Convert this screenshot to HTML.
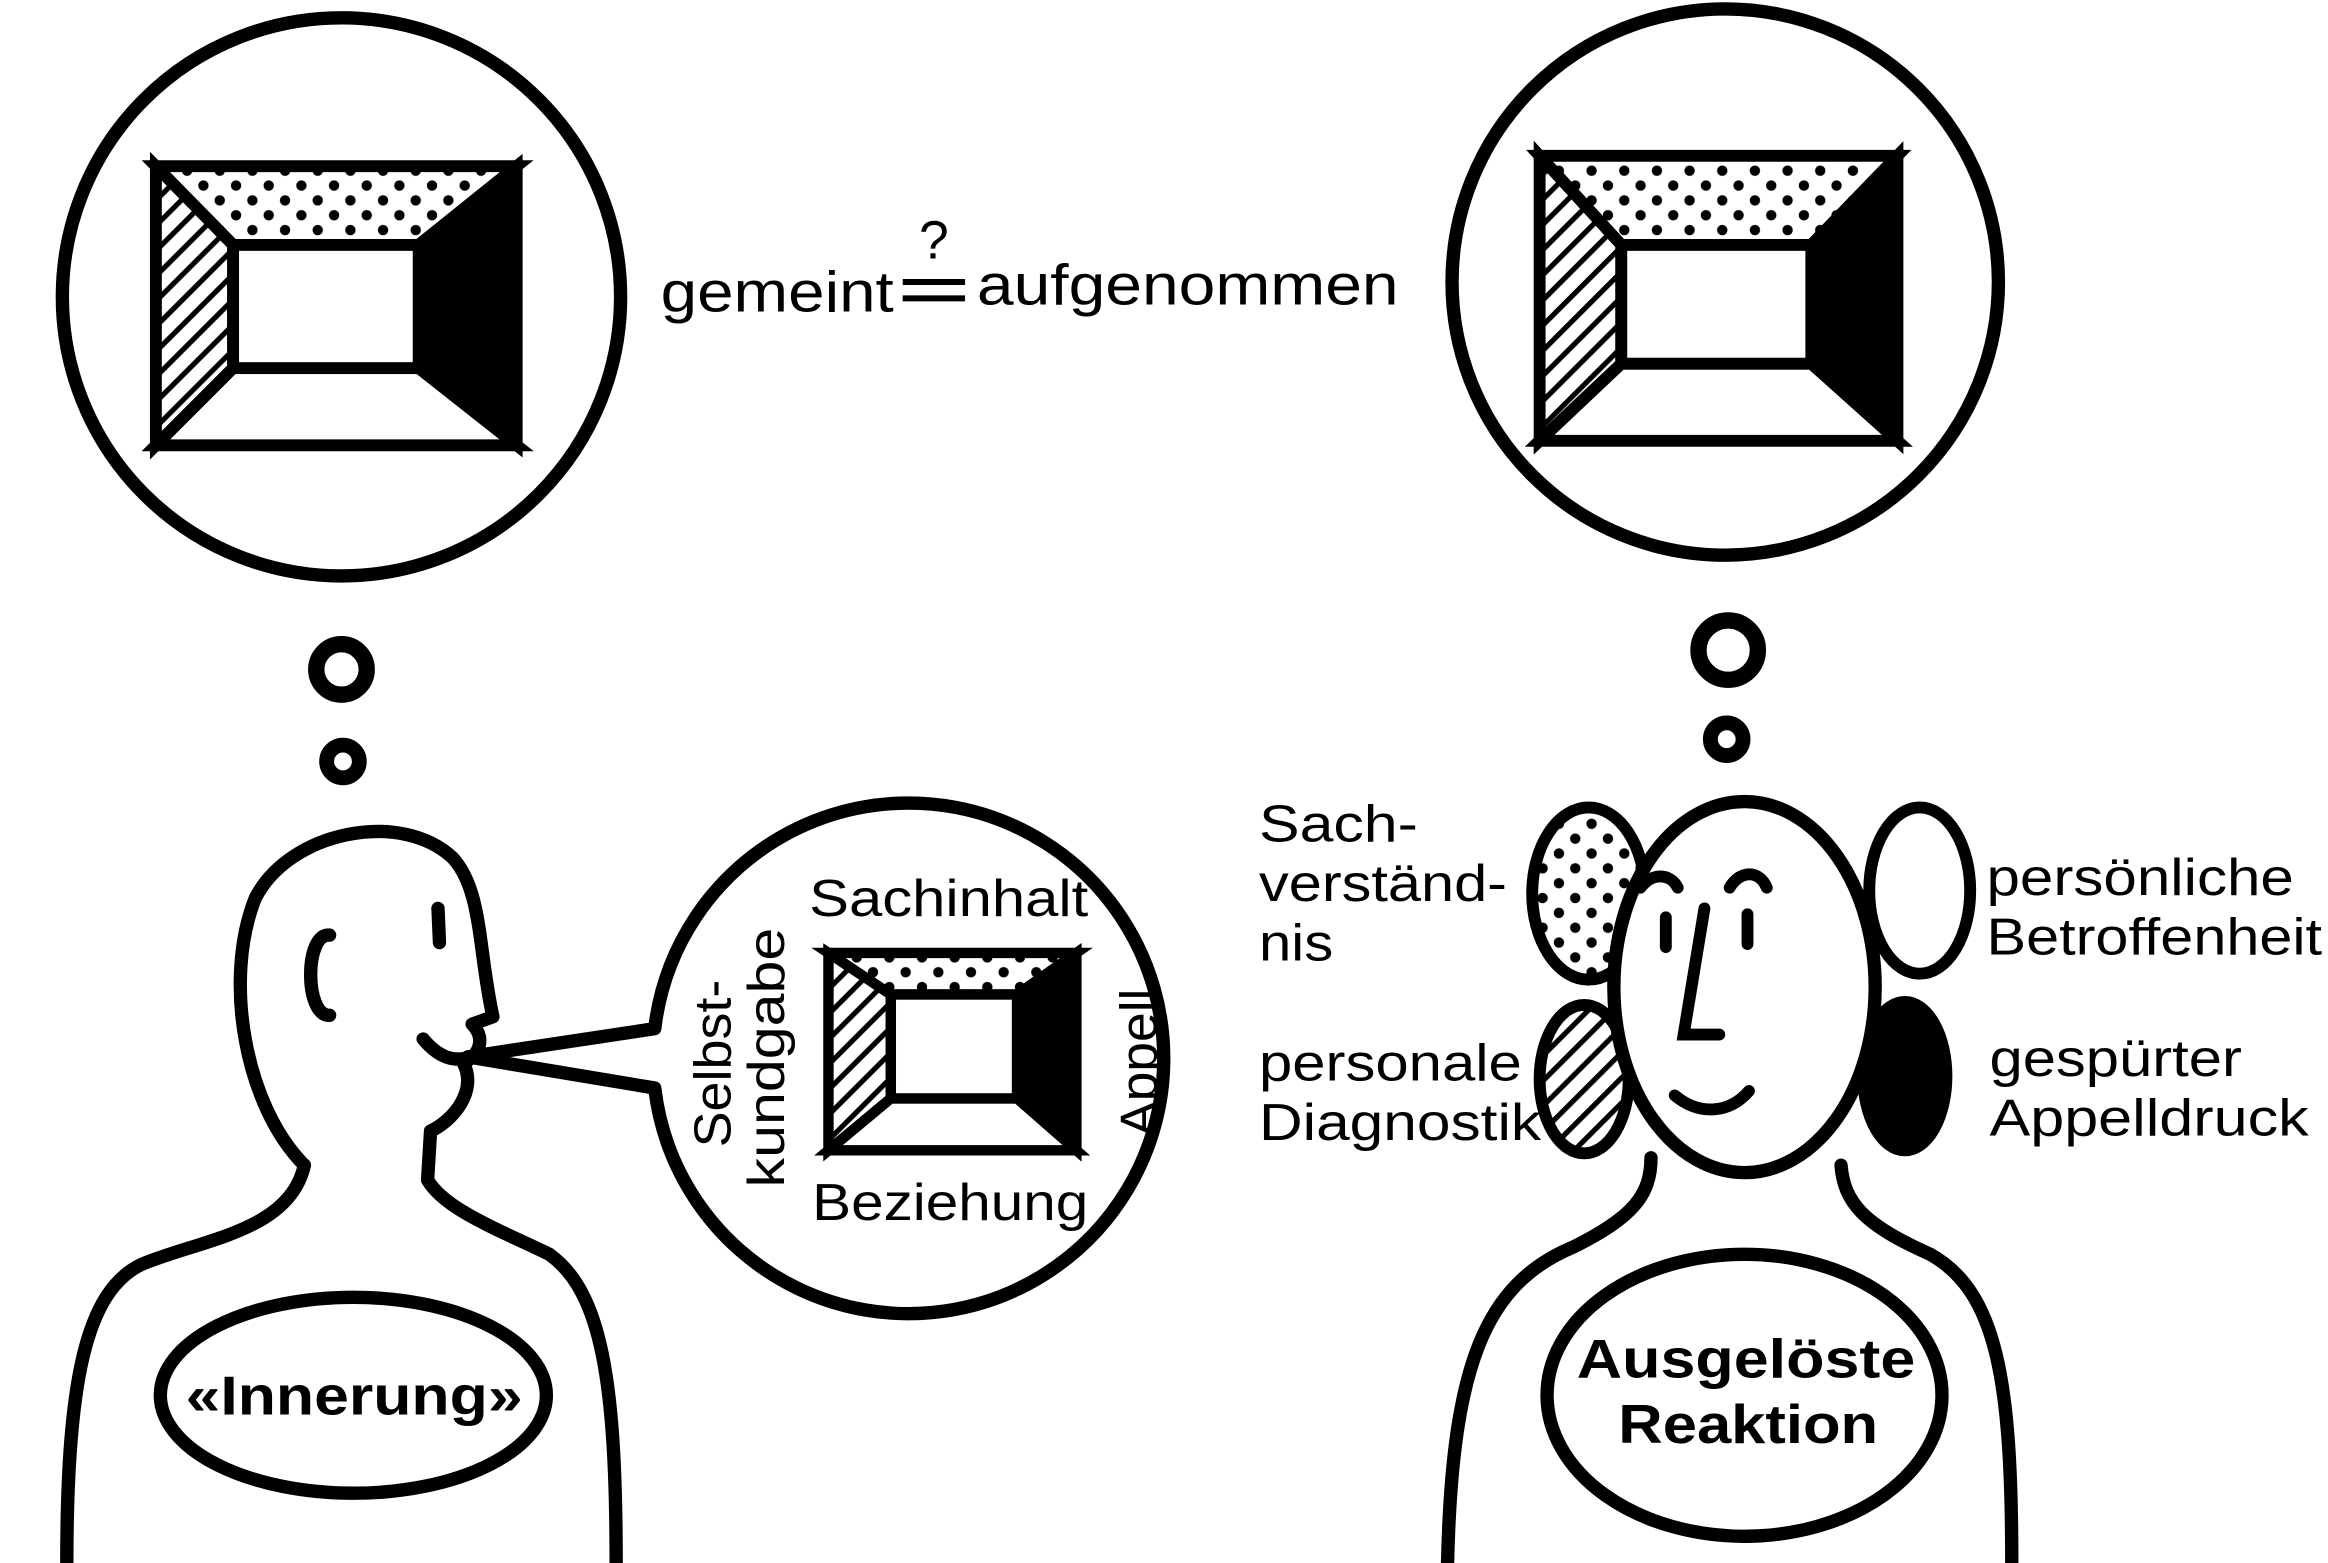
<!DOCTYPE html>
<html><head><meta charset="utf-8"><style>
html,body{margin:0;padding:0;background:#fff;}
svg{display:block}
text{font-family:"Liberation Sans",sans-serif;fill:#000}
</style></head><body>
<svg width="2328" height="1563" viewBox="0 0 1568 1053" preserveAspectRatio="none" xmlns="http://www.w3.org/2000/svg">
<defs>
<pattern id="dots" width="22" height="20" patternUnits="userSpaceOnUse">
<circle cx="5" cy="5" r="3.5" fill="#000"/><circle cx="16" cy="15" r="3.5" fill="#000"/>
</pattern>
<pattern id="hatch" width="12" height="12" patternUnits="userSpaceOnUse" patternTransform="rotate(-45)">
<rect width="12" height="12" fill="#fff"/><rect width="12" height="3.5" fill="#000"/>
</pattern>
</defs>
<g fill="none" stroke="#000" stroke-width="9">
<circle cx="230" cy="200" r="188"/>
<circle cx="230" cy="451" r="17" stroke-width="11"/>
<circle cx="231" cy="513" r="11" stroke-width="10"/>
<circle cx="1162" cy="190" r="184"/>
<circle cx="1164" cy="438" r="20" stroke-width="11"/>
<circle cx="1163" cy="498" r="11" stroke-width="10"/>
</g>
<g stroke="#000" stroke-width="8" stroke-linejoin="miter">
<polygon points="105,112 348,112 282,165 157,165" fill="url(#dots)"/>
<polygon points="105,112 157,165 157,248 105,300" fill="url(#hatch)"/>
<polygon points="348,112 348,300 282,248 282,165" fill="#000"/>
<polygon points="105,300 348,300 282,248 157,248" fill="#fff"/>
<rect x="157" y="165" width="125" height="83" fill="#fff"/>
</g>
<g stroke="#000" stroke-width="8">
<polygon points="1037,105 1278,105 1220,165 1092,165" fill="url(#dots)"/>
<polygon points="1037,105 1092,165 1092,245 1037,297" fill="url(#hatch)"/>
<polygon points="1278,105 1278,297 1220,245 1220,165" fill="#000"/>
<polygon points="1037,297 1278,297 1220,245 1092,245" fill="#fff"/>
<rect x="1092" y="165" width="128" height="80" fill="#fff"/>
</g>
<text x="445" y="210" font-size="39" textLength="157" lengthAdjust="spacingAndGlyphs">gemeint</text>
<text x="619" y="174" font-size="36">?</text>
<line x1="608" y1="190" x2="650" y2="190" stroke="#000" stroke-width="4"/>
<line x1="608" y1="201" x2="650" y2="201" stroke="#000" stroke-width="4"/>
<text x="658" y="205" font-size="39" textLength="284" lengthAdjust="spacingAndGlyphs">aufgenommen</text>
<g fill="none" stroke="#000" stroke-width="9" stroke-linecap="round" stroke-linejoin="round">
<path d="M205,785 C165,745 150,660 172,605 C195,560 270,545 305,578 C325,600 322,640 332,685 L318,690 C328,700 322,712 312,716 C322,735 305,755 290,762 L288,795 C300,815 335,828 370,845 C405,870 415,930 415,1053"/>
<path d="M45,1053 C45,930 58,870 95,852 C135,835 195,830 205,785"/>
<path d="M222,630 C205,628 205,685 222,684"/>
<line x1="295" y1="612" x2="296" y2="635"/>
<path d="M285,700 C295,712 305,716 318,712"/>
</g>
<g fill="#fff" stroke="#000" stroke-width="9" stroke-linejoin="round">
<path d="M315,712 L441,693 A172,172 0 1,1 441,733 Z"/>
</g>
<g stroke="#000" stroke-width="7">
<polygon points="558,642 725,642 685,670 600,670" fill="url(#dots)"/>
<polygon points="558,642 600,670 600,740 558,775" fill="url(#hatch)"/>
<polygon points="725,642 725,775 685,740 685,670" fill="#000"/>
<polygon points="558,775 725,775 685,740 600,740" fill="#fff"/>
<rect x="600" y="670" width="85" height="70" fill="#fff"/>
</g>
<g font-size="35">
<text x="545" y="617" textLength="188" lengthAdjust="spacingAndGlyphs">Sachinhalt</text>
<text x="547" y="822" textLength="186" lengthAdjust="spacingAndGlyphs">Beziehung</text>
<text transform="translate(779,766) rotate(-90)" textLength="100" lengthAdjust="spacingAndGlyphs">Appell</text>
<text transform="translate(492,773) rotate(-90)" textLength="113" lengthAdjust="spacingAndGlyphs">Selbst-</text>
<text transform="translate(528,800) rotate(-90)" textLength="175" lengthAdjust="spacingAndGlyphs">kundgabe</text>
</g>
<ellipse cx="238" cy="940" rx="130" ry="66" fill="#fff" stroke="#000" stroke-width="9"/>
<text x="125" y="953" font-size="37" font-weight="bold" textLength="227" lengthAdjust="spacingAndGlyphs">«Innerung»</text>
<g fill="none" stroke="#000" stroke-width="9" stroke-linecap="round">
<path d="M1112,780 C1112,805 1100,820 1060,840 C1000,865 978,920 975,1053"/>
<path d="M1240,785 C1242,810 1255,825 1300,845 C1345,870 1355,930 1355,1053"/>
</g>
<ellipse cx="1070" cy="602" rx="38" ry="58" fill="url(#dots)" stroke="#000" stroke-width="8"/>
<ellipse cx="1067" cy="727" rx="30" ry="50" fill="url(#hatch)" stroke="#000" stroke-width="8"/>
<ellipse cx="1293" cy="600" rx="34" ry="56" fill="#fff" stroke="#000" stroke-width="8"/>
<ellipse cx="1283" cy="725" rx="28" ry="50" fill="#000" stroke="#000" stroke-width="8"/>
<ellipse cx="1175" cy="665" rx="88" ry="125" fill="#fff" stroke="#000" stroke-width="9"/>
<g fill="none" stroke="#000" stroke-width="8" stroke-linecap="round">
<path d="M1105,598 C1112,588 1125,588 1130,598"/>
<path d="M1165,598 C1172,586 1185,586 1190,598"/>
<line x1="1122" y1="618" x2="1122" y2="638"/>
<line x1="1177" y1="616" x2="1177" y2="636"/>
<path d="M1148,612 L1134,697 L1158,697"/>
<path d="M1128,738 C1145,752 1165,750 1178,735"/>
</g>
<ellipse cx="1175" cy="940" rx="133" ry="95" fill="#fff" stroke="#000" stroke-width="9"/>
<text x="1062" y="928" font-size="37" font-weight="bold" textLength="228" lengthAdjust="spacingAndGlyphs">Ausgelöste</text>
<text x="1090" y="972" font-size="37" font-weight="bold" textLength="175" lengthAdjust="spacingAndGlyphs">Reaktion</text>
<g font-size="35">
<text x="848" y="567" textLength="107" lengthAdjust="spacingAndGlyphs">Sach-</text>
<text x="848" y="607" textLength="167" lengthAdjust="spacingAndGlyphs">verständ-</text>
<text x="848" y="647" textLength="50" lengthAdjust="spacingAndGlyphs">nis</text>
<text x="848" y="728" textLength="177" lengthAdjust="spacingAndGlyphs">personale</text>
<text x="848" y="768" textLength="190" lengthAdjust="spacingAndGlyphs">Diagnostik</text>
<text x="1338" y="603" textLength="207" lengthAdjust="spacingAndGlyphs">persönliche</text>
<text x="1338" y="643" textLength="226" lengthAdjust="spacingAndGlyphs">Betroffenheit</text>
<text x="1340" y="725" textLength="170" lengthAdjust="spacingAndGlyphs">gespürter</text>
<text x="1340" y="765" textLength="215" lengthAdjust="spacingAndGlyphs">Appelldruck</text>
</g>
</svg>
</body></html>
